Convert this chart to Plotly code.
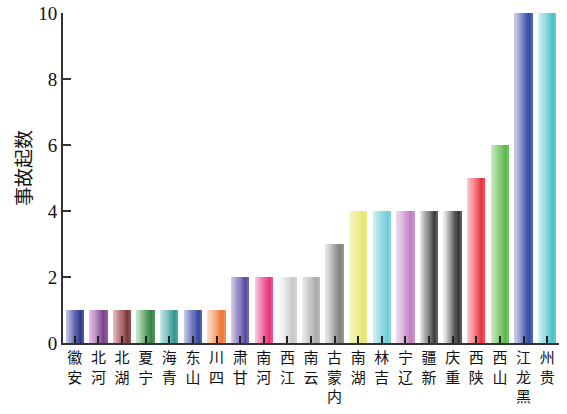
import plotly.graph_objects as go

# Accident counts by province
provinces = ["安徽", "河北", "湖北", "宁夏", "青海", "山东", "四川", "甘肃", "河南", "江西",
             "云南", "内蒙古", "湖南", "吉林", "辽宁", "新疆", "重庆", "陕西", "山西", "黑龙江", "贵州"]
counts = [1, 1, 1, 1, 1, 1, 1, 2, 2, 2, 2, 3, 4, 4, 4, 4, 4, 5, 6, 10, 10]

# Shading of each bar: pale left side -> saturated right side
dark_colors = ["#2b3588", "#7b3f8f", "#7a3434", "#2f8040", "#2f9490", "#3344a0", "#f07838",
               "#5348a0", "#e8307a", "#c8c8c8", "#a8a8a8", "#808080", "#e6e670", "#6cccd6",
               "#c080c0", "#3a3a3a", "#303030", "#e83038", "#58b848", "#3048a8", "#48c0c8"]
light_colors = ["#c9c9ea", "#ecc8e6", "#f0c0c4", "#c8e8c8", "#c8ecec", "#c8cce8", "#fde0cc",
                "#d8d0ec", "#f8cce0", "#ffffff", "#f0f0f0", "#e8e8e8", "#f8f8c8", "#d8f0f4",
                "#f0dcf0", "#ececec", "#f0f0f0", "#fcd0d4", "#d0ecc8", "#ccd0ec", "#d8f4f4"]

y_ticks = [0, 2, 4, 6, 8, 10]


def hex_rgb(h):
    h = h.lstrip("#")
    return tuple(int(h[i:i + 2], 16) for i in (0, 2, 4))


def mix(c1, c2, t):
    a, b = hex_rgb(c1), hex_rgb(c2)
    return "rgb(%d,%d,%d)" % tuple(round(a[k] + (b[k] - a[k]) * t) for k in range(3))


def shade(light, dark, t):
    # light at left edge, darkest near right edge, slight highlight at the very edge
    if t <= 0.85:
        return mix(light, dark, t / 0.85)
    return mix(dark, light, (t - 0.85) / 0.15 * 0.25)


BAR_W = 0.74
N_SLICES = 16
slice_w = BAR_W / N_SLICES

fig = go.Figure()
for i in range(N_SLICES):
    t = (i + 0.5) / N_SLICES
    fig.add_trace(go.Bar(
        x=list(range(len(provinces))),
        y=counts,
        offset=-BAR_W / 2 + i * slice_w,
        width=slice_w * 1.08,
        marker=dict(color=[shade(l, d, t) for l, d in zip(light_colors, dark_colors)],
                    line=dict(width=0)),
        hoverinfo="skip",
        showlegend=False,
    ))

# Labels stacked vertically, read from bottom to top
tick_text = ["<br>".join(reversed(list(p))) for p in provinces]

fig.update_layout(
    width=567, height=414,
    margin=dict(l=63, r=8, t=13, b=71, autoexpand=False),
    barmode="overlay",
    plot_bgcolor="white",
    paper_bgcolor="white",
    xaxis=dict(
        range=[-0.5, len(provinces) - 0.5],
        tickmode="array",
        tickvals=list(range(len(provinces))),
        ticktext=tick_text,
        tickangle=0,
        automargin=False,
        ticks="inside", ticklen=7, tickwidth=1.5, tickcolor="#222",
        showline=True, linecolor="#333", linewidth=2,
        showgrid=False, zeroline=False,
        tickfont=dict(family="Noto Sans CJK SC", size=15, color="#111"),
    ),
    yaxis=dict(
        range=[0, 10],
        tickmode="array",
        tickvals=y_ticks,
        ticktext=[str(v) for v in y_ticks],
        automargin=False,
        ticks="inside", ticklen=8, tickwidth=1.5, tickcolor="#333",
        showline=True, linecolor="#333", linewidth=2,
        showgrid=False, zeroline=False,
        tickfont=dict(family="Liberation Serif", size=19, color="#111"),
    ),
    annotations=[dict(
        text="事故起数", textangle=-90,
        xref="paper", yref="paper", x=-0.083, y=0.53,
        xanchor="center", yanchor="middle", showarrow=False,
        font=dict(family="Noto Sans CJK SC", size=19, color="#111"),
    )],
)

fig.write_html("out.html")
